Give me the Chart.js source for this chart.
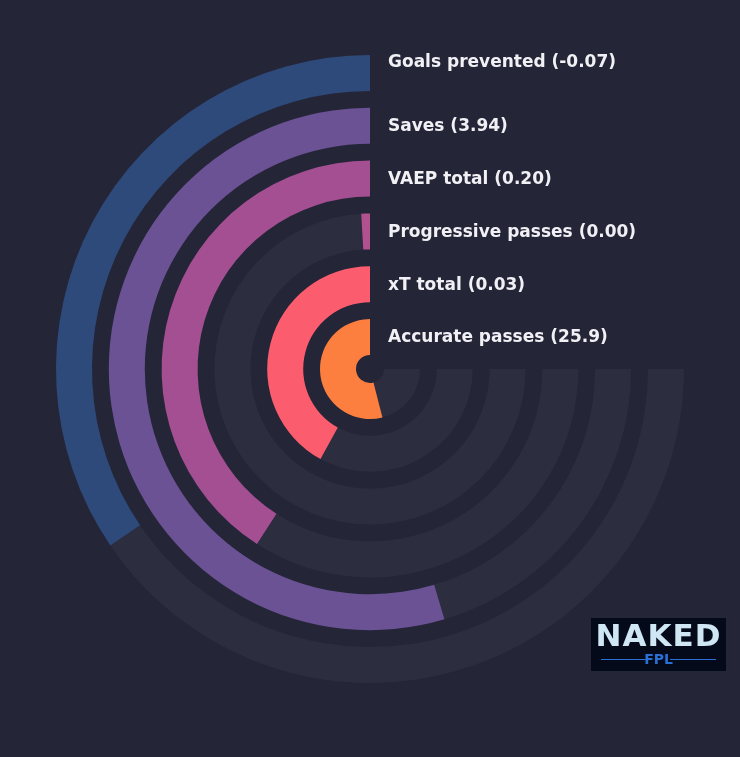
<!DOCTYPE html>
<html><head><meta charset="utf-8">
<script src="https://cdn.jsdelivr.net/npm/chart.js@4"></script>
<style>
body{margin:0;background:#252538;}
#wrap{position:relative;width:740px;height:757px;}
#logo{position:absolute;left:591px;top:618px;width:135px;height:53px;background:#050a1a;font-family:"DejaVu Sans",sans-serif;text-align:center;}
#logo .n{color:#cfe6f5;font-weight:bold;font-size:31px;letter-spacing:1px;line-height:32px;margin-top:1px}
#logo .f{color:#2a6fd6;font-weight:bold;font-size:14px;line-height:16px;position:relative}
#logo .f:before,#logo .f:after{content:"";position:absolute;top:8px;width:46px;height:1px;background:#2a6fd6}
#logo .f:before{left:10px}#logo .f:after{right:10px}
</style></head><body>
<div id="wrap"><canvas id="c" width="740" height="757"></canvas>
<div id="logo"><div class="n">NAKED</div><div class="f">FPL</div></div></div>
<script>
const labels=["Goals prevented (-0.07)","Saves (3.94)","VAEP total (0.20)","Progressive passes (0.00)","xT total (0.03)","Accurate passes (25.9)"];
const fractions=[0.46,0.728,0.545,0.012,0.56,0.72];
const colors=["#2e4a7a","#6a5294","#a34f92","#b2518f","#fb5d6e","#fd7f3f"];
const track="#2d2d40";
const datasets=[];
fractions.forEach((f,i)=>{
  if(i>0) datasets.push({data:[1],backgroundColor:["rgba(0,0,0,0)"],borderWidth:0,weight:16.8,spacer:true});
  datasets.push({data:[1-f,f],backgroundColor:[track,colors[i]],borderWidth:0,weight:36,lbl:labels[i],first:i===0});
});
const labelPlugin={id:"lbl",afterDatasetsDraw(chart){
  const ctx=chart.ctx;ctx.save();
  ctx.fillStyle="#f0f0f5";ctx.font="bold 17px 'DejaVu Sans'";ctx.textBaseline="middle";ctx.textAlign="left";
  chart.data.datasets.forEach((ds,i)=>{
    if(!ds.lbl)return;
    const a=chart.getDatasetMeta(i).data[0];
    const r=(a.innerRadius+a.outerRadius)/2+(ds.first?10:-1);
    ctx.fillText(ds.lbl,a.x+18,a.y-r);
  });
  ctx.restore();
}};
new Chart(document.getElementById("c"),{
  type:"doughnut",
  data:{labels:["track","value"],datasets},
  options:{responsive:false,animation:false,rotation:90,circumference:270,cutout:14,
    layout:{padding:{left:56,right:56,top:55,bottom:74}},
    plugins:{legend:{display:false},tooltip:{enabled:false}}},
  plugins:[labelPlugin]
});
</script></body></html>
